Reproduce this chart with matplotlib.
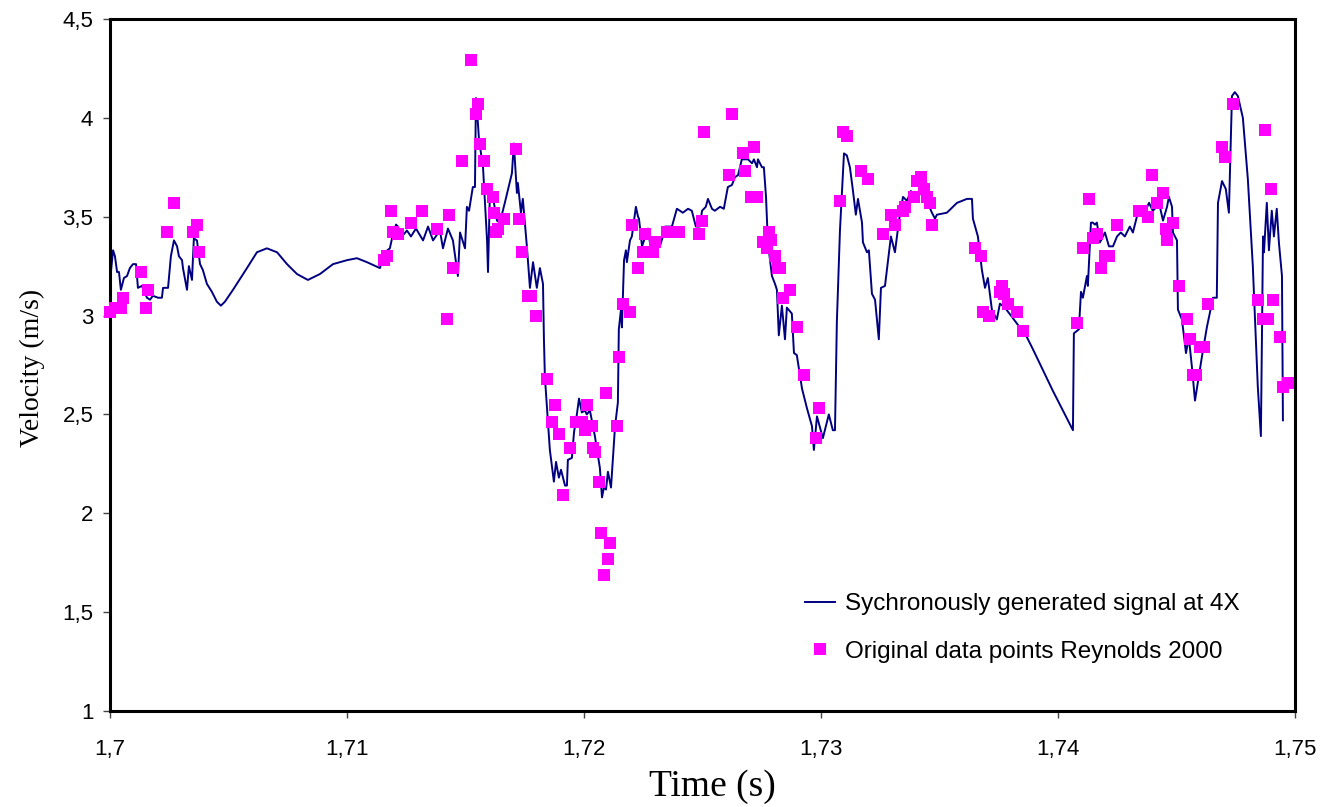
import matplotlib
matplotlib.use("Agg")
from matplotlib import pyplot as plt
from matplotlib.ticker import FuncFormatter, MultipleLocator

# synchronously generated signal (time in s, velocity in m/s)
line_t = [1.70004, 1.70013, 1.70021, 1.70030, 1.70038, 1.70046, 1.70059, 1.70072, 1.70084, 1.70097,
          1.70110, 1.70118, 1.70135, 1.70156, 1.70169, 1.70181, 1.70203, 1.70219, 1.70224, 1.70245,
          1.70257, 1.70270, 1.70283, 1.70291, 1.70304, 1.70308, 1.70325, 1.70333, 1.70346, 1.70354,
          1.70367, 1.70380, 1.70392, 1.70409, 1.70430, 1.70451, 1.70468, 1.70485, 1.70519, 1.70578,
          1.70620, 1.70662, 1.70705, 1.70747, 1.70789, 1.70835, 1.70886, 1.70941, 1.71000, 1.71042,
          1.71084, 1.71139, 1.71160, 1.71181, 1.71190, 1.71207, 1.71215, 1.71232, 1.71253, 1.71270,
          1.71291, 1.71321, 1.71342, 1.71363, 1.71392, 1.71405, 1.71426, 1.71447, 1.71468, 1.71477,
          1.71498, 1.71506, 1.71515, 1.71531, 1.71540, 1.71544, 1.71548, 1.71557, 1.71574, 1.71591,
          1.71595, 1.71603, 1.71620, 1.71633, 1.71645, 1.71666, 1.71696, 1.71704, 1.71717, 1.71721,
          1.71734, 1.71742, 1.71759, 1.71772, 1.71785, 1.71801, 1.71814, 1.71827, 1.71831, 1.71835,
          1.71848, 1.71856, 1.71873, 1.71882, 1.71894, 1.71903, 1.71920, 1.71928, 1.71932, 1.71949,
          1.71958, 1.71970, 1.71979, 1.71991, 1.72004, 1.72012, 1.72025, 1.72046, 1.72067, 1.72076,
          1.72084, 1.72093, 1.72101, 1.72114, 1.72131, 1.72143, 1.72147, 1.72156, 1.72160, 1.72169,
          1.72177, 1.72181, 1.72194, 1.72202, 1.72219, 1.72228, 1.72232, 1.72245, 1.72270, 1.72278,
          1.72299, 1.72320, 1.72333, 1.72342, 1.72371, 1.72392, 1.72405, 1.72417, 1.72439, 1.72455,
          1.72472, 1.72489, 1.72498, 1.72514, 1.72523, 1.72540, 1.72552, 1.72574, 1.72590, 1.72607,
          1.72624, 1.72637, 1.72650, 1.72666, 1.72692, 1.72709, 1.72717, 1.72730, 1.72734, 1.72751,
          1.72759, 1.72768, 1.72776, 1.72793, 1.72806, 1.72814, 1.72822, 1.72835, 1.72848, 1.72856,
          1.72877, 1.72886, 1.72898, 1.72920, 1.72941, 1.72962, 1.72970, 1.72983, 1.73008, 1.73033,
          1.73050, 1.73059, 1.73067, 1.73080, 1.73097, 1.73109, 1.73122, 1.73135, 1.73147, 1.73156,
          1.73173, 1.73177, 1.73194, 1.73202, 1.73215, 1.73228, 1.73244, 1.73253, 1.73270, 1.73282,
          1.73295, 1.73312, 1.73329, 1.73346, 1.73363, 1.73379, 1.73396, 1.73417, 1.73447, 1.73468,
          1.73481, 1.73489, 1.73531, 1.73574, 1.73616, 1.73637, 1.73641, 1.73662, 1.73679, 1.73692,
          1.73704, 1.73721, 1.73742, 1.73755, 1.73776, 1.73839, 1.73869, 1.73894, 1.73978, 1.74063,
          1.74067, 1.74088, 1.74097, 1.74105, 1.74122, 1.74126, 1.74139, 1.74147, 1.74156, 1.74164,
          1.74177, 1.74198, 1.74215, 1.74232, 1.74249, 1.74265, 1.74282, 1.74303, 1.74316, 1.74337,
          1.74362, 1.74384, 1.74400, 1.74417, 1.74430, 1.74443, 1.74460, 1.74468, 1.74481, 1.74485,
          1.74502, 1.74506, 1.74523, 1.74540, 1.74552, 1.74565, 1.74578, 1.74590, 1.74607, 1.74628,
          1.74654, 1.74670, 1.74675, 1.74692, 1.74708, 1.74721, 1.74734, 1.74746, 1.74759, 1.74780,
          1.74801, 1.74822, 1.74843, 1.74856, 1.74865, 1.74869, 1.74881, 1.74890, 1.74902, 1.74911,
          1.74923, 1.74932, 1.74945, 1.74949]
line_v = [3.22, 3.33, 3.30, 3.22, 3.22, 3.13, 3.19, 3.20, 3.24, 3.26,
          3.26, 3.14, 3.15, 3.09, 3.08, 3.10, 3.09, 3.09, 3.14, 3.14,
          3.30, 3.38, 3.35, 3.30, 3.28, 3.24, 3.13, 3.25, 3.18, 3.39,
          3.38, 3.26, 3.23, 3.16, 3.12, 3.07, 3.05, 3.07, 3.13, 3.24,
          3.32, 3.34, 3.32, 3.26, 3.21, 3.18, 3.21, 3.26, 3.28, 3.29,
          3.27, 3.24, 3.32, 3.34, 3.39, 3.46, 3.45, 3.40, 3.43, 3.40,
          3.44, 3.38, 3.45, 3.38, 3.43, 3.34, 3.44, 3.38, 3.20, 3.42,
          3.34, 3.55, 3.53, 3.65, 3.65, 4.10, 4.05, 3.89, 3.75, 3.38,
          3.22, 3.62, 3.57, 3.48, 3.47, 3.57, 3.72, 3.87, 3.62, 3.67,
          3.52, 3.59, 3.35, 3.14, 3.27, 3.14, 3.24, 3.16, 2.88, 2.69,
          2.46, 2.32, 2.16, 2.26, 2.18, 2.22, 2.14, 2.14, 2.27, 2.28,
          2.41, 2.50, 2.58, 2.51, 2.52, 2.50, 2.52, 2.39, 2.23, 2.08,
          2.13, 2.12, 2.21, 2.13, 2.44, 2.56, 2.93, 3.03, 2.94, 3.28,
          3.33, 3.27, 3.38, 3.40, 3.55, 3.50, 3.49, 3.35, 3.44, 3.37,
          3.36, 3.35, 3.40, 3.45, 3.45, 3.54, 3.53, 3.52, 3.54, 3.53,
          3.45, 3.45, 3.53, 3.55, 3.59, 3.54, 3.53, 3.55, 3.54, 3.65,
          3.66, 3.70, 3.71, 3.79, 3.79, 3.77, 3.79, 3.75, 3.79, 3.75,
          3.75, 3.60, 3.37, 3.20, 3.16, 3.13, 2.90, 3.05, 2.88, 3.04,
          3.01, 2.81, 2.80, 2.63, 2.53, 2.44, 2.32, 2.49, 2.38, 2.50,
          2.42, 2.42, 2.97, 3.43, 3.82, 3.81, 3.75, 3.63, 3.51, 3.59,
          3.47, 3.37, 3.32, 3.33, 3.11, 3.08, 2.88, 3.14, 3.15, 3.27,
          3.40, 3.32, 3.48, 3.60, 3.58, 3.63, 3.59, 3.62, 3.58, 3.52,
          3.49, 3.51, 3.52, 3.57, 3.59, 3.59, 3.49, 3.40, 3.23, 3.14,
          3.19, 3.03, 2.98, 3.06, 3.04, 2.94, 2.89, 2.83, 2.62, 2.42,
          2.91, 2.93, 3.12, 3.09, 3.20, 3.15, 3.47, 3.47, 3.46, 3.47,
          3.37, 3.42, 3.35, 3.35, 3.40, 3.42, 3.40, 3.45, 3.42, 3.52,
          3.51, 3.57, 3.53, 3.55, 3.55, 3.48, 3.55, 3.60, 3.55, 3.42,
          3.38, 3.03, 2.98, 2.81, 2.89, 2.74, 2.57, 2.66, 2.79, 2.94,
          3.09, 3.09, 3.57, 3.68, 3.64, 3.52, 4.11, 4.13, 4.11, 4.00,
          3.69, 3.25, 2.64, 2.39, 3.40, 3.32, 3.57, 3.33, 3.53, 3.40,
          3.54, 3.37, 3.20, 2.47]

# original data points (Reynolds 2000)
pts_t = [1.70000, 1.70021, 1.70046, 1.70055, 1.70131, 1.70160, 1.70152, 1.70240, 1.70270, 1.70350,
         1.70367, 1.70375, 1.71156, 1.71169, 1.71186, 1.71194, 1.71215, 1.71270, 1.71316, 1.71380,
         1.71430, 1.71447, 1.71422, 1.71485, 1.71523, 1.71553, 1.71544, 1.71561, 1.71578, 1.71591,
         1.71616, 1.71620, 1.71637, 1.71629, 1.71662, 1.71713, 1.71726, 1.71738, 1.71764, 1.71776,
         1.71797, 1.71844, 1.71877, 1.71865, 1.71894, 1.71911, 1.71941, 1.71966, 1.71991, 1.72012,
         1.72004, 1.72034, 1.72038, 1.72046, 1.72063, 1.72071, 1.72110, 1.72101, 1.72084, 1.72093,
         1.72139, 1.72147, 1.72164, 1.72194, 1.72228, 1.72202, 1.72257, 1.72249, 1.72278, 1.72299,
         1.72291, 1.72350, 1.72401, 1.72485, 1.72498, 1.72506, 1.72624, 1.72612, 1.72671, 1.72717,
         1.72679, 1.72704, 1.72730, 1.72780, 1.72755, 1.72789, 1.72772, 1.72806, 1.72818, 1.72827,
         1.72869, 1.72839, 1.72898, 1.72928, 1.72991, 1.72979, 1.73080, 1.73093, 1.73109, 1.73168,
         1.73198, 1.73261, 1.73295, 1.73312, 1.73346, 1.73354, 1.73392, 1.73405, 1.73422, 1.73434,
         1.73447, 1.73460, 1.73468, 1.73649, 1.73675, 1.73763, 1.73755, 1.73772, 1.73789, 1.73827,
         1.73683, 1.73709, 1.73852, 1.74080, 1.74105, 1.74130, 1.74147, 1.74164, 1.74181, 1.74198,
         1.74215, 1.74249, 1.74396, 1.74341, 1.74354, 1.74379, 1.74417, 1.74443, 1.74485, 1.74455,
         1.74460, 1.74510, 1.74544, 1.74557, 1.74599, 1.74616, 1.74569, 1.74582, 1.74632, 1.74692,
         1.74704, 1.74738, 1.74873, 1.74898, 1.74843, 1.74907, 1.74865, 1.74886, 1.74936, 1.74949,
         1.74970]
pts_v = [3.02, 3.04, 3.04, 3.09, 3.22, 3.13, 3.04, 3.42, 3.57, 3.42,
         3.46, 3.32, 3.28, 3.30, 3.53, 3.42, 3.41, 3.47, 3.53, 3.44,
         3.51, 3.24, 2.98, 3.78, 4.29, 4.07, 4.02, 3.87, 3.78, 3.64,
         3.60, 3.52, 3.44, 3.42, 3.49, 3.84, 3.49, 3.32, 3.10, 3.10,
         3.00, 2.68, 2.55, 2.46, 2.40, 2.09, 2.33, 2.46, 2.46, 2.55,
         2.42, 2.44, 2.33, 2.31, 2.16, 1.90, 1.85, 1.77, 1.69, 2.61,
         2.44, 2.79, 3.06, 3.02, 3.24, 3.46, 3.41, 3.32, 3.32, 3.37,
         3.32, 3.42, 3.42, 3.41, 3.48, 3.93, 4.02, 3.71, 3.82, 3.85,
         3.73, 3.60, 3.60, 3.42, 3.37, 3.38, 3.34, 3.30, 3.24, 3.24,
         3.13, 3.09, 2.94, 2.70, 2.53, 2.38, 3.58, 3.93, 3.91, 3.73,
         3.69, 3.41, 3.51, 3.46, 3.53, 3.55, 3.60, 3.68, 3.70, 3.64,
         3.60, 3.57, 3.46, 3.34, 3.30, 3.15, 3.12, 3.11, 3.06, 3.02,
         3.02, 3.00, 2.92, 2.96, 3.34, 3.59, 3.39, 3.41, 3.24, 3.30,
         3.30, 3.46, 3.71, 3.53, 3.53, 3.50, 3.57, 3.62, 3.47, 3.44,
         3.38, 3.15, 2.98, 2.88, 2.84, 2.84, 2.70, 2.70, 3.06, 3.85,
         3.80, 4.07, 3.94, 3.64, 3.08, 3.08, 2.98, 2.98, 2.89, 2.64,
         2.66]

x_ticks = [1.70, 1.71, 1.72, 1.73, 1.74, 1.75]

plt.rcParams['font.family'] = ['Liberation Sans', 'DejaVu Sans']

fig = plt.figure(figsize=(13.33, 8.07), dpi=100)
ax = fig.add_axes([0.0825, 0.119, 0.889, 0.8575])

ax.plot(line_t, line_v, color='#000080', linewidth=1.4,
        label='Sychronously generated signal at 4X', zorder=2)
ax.plot(pts_t, pts_v, linestyle='none', marker='s', markersize=8,
        color='#FF00FF', markeredgewidth=0, clip_on=False,
        label='Original data points Reynolds 2000', zorder=3)

ax.set_xlim(1.70, 1.75)
ax.set_ylim(1, 4.5)
ax.set_xticks(x_ticks)
ax.yaxis.set_major_locator(MultipleLocator(0.5))
comma = FuncFormatter(lambda v, p: ('%g' % round(v, 4)).replace('.', ','))
ax.xaxis.set_major_formatter(comma)
ax.yaxis.set_major_formatter(comma)
ax.tick_params(axis='both', direction='out', length=5, width=1, color='#444444',
               labelsize=16)
ax.tick_params(axis='x', pad=15)
ax.tick_params(axis='y', pad=7)

for s in ax.spines.values():
    s.set_linewidth(2.2)

ax.set_xlabel('Time (s)', family='Liberation Serif', fontsize=27)
ax.set_ylabel('Velocity (m/s)', family='Liberation Serif', fontsize=20)
ax.xaxis.set_label_coords(0.508, -0.085)
ax.yaxis.set_label_coords(-0.055, 0.495)

ax.legend(loc='center left', bbox_to_anchor=(0.5865, 0.12), frameon=False,
          fontsize=17.5, borderpad=0, borderaxespad=0, handlelength=1.25,
          handletextpad=0.4, labelspacing=1.05)

plt.savefig('out.png', dpi=100)
